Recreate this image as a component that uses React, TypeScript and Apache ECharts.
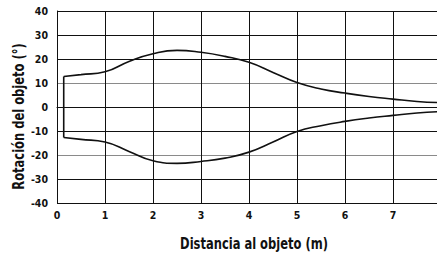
import React, { useEffect, useRef } from "react";
import * as echarts from "echarts";

const distances = [0.14, 0.5, 1, 1.5, 2, 2.5, 3, 3.5, 4, 4.5, 5, 5.5, 6, 6.5, 7, 7.5, 8];
const upper = [12.7, 13.5, 14.7, 19.0, 22.2, 23.6, 22.8, 21.1, 18.6, 14.4, 10.2, 7.5, 5.8, 4.4, 3.3, 2.3, 1.8];
const lower = [-12.7, -13.5, -14.6, -18.5, -22.4, -23.5, -22.7, -21.3, -18.8, -14.6, -10.2, -7.8, -6.0, -4.6, -3.5, -2.5, -1.9];
const yTicks = [-40, -30, -20, -10, 0, 10, 20, 30, 40];
const xTicks = [0, 1, 2, 3, 4, 5, 6, 7, 8];
const xTitle = "Distancia al objeto (m)";
const yTitle = "Rotación del objeto (°)";

const FONT = "'Liberation Sans Narrow', 'DejaVu Sans Condensed', 'Arial Narrow', sans-serif";
const DARK = "#111111";
const GRAY = "#8a8a8a";

export default function App() {
  const ref = useRef<HTMLDivElement>(null);
  useEffect(() => {
    if (!ref.current) return;
    const chart = echarts.init(ref.current, null, { renderer: "svg" });
    const up = distances.map((d, i) => [d, upper[i]]);
    const lo = distances.map((d, i) => [d, lower[i]]);
    const splitColors = yTicks.map((t) => (t === 10 || t === -20 ? GRAY : DARK));
    chart.setOption({
      animation: false,
      grid: { left: 57, top: 11, width: 384, height: 192, show: false },
      xAxis: {
        type: "value",
        min: xTicks[0],
        max: xTicks[xTicks.length - 1],
        interval: 1,
        axisLine: { show: true, lineStyle: { color: DARK, width: 1 } },
        axisTick: { show: false },
        splitLine: { show: true, lineStyle: { color: DARK, width: 1 } },
        axisLabel: {
          margin: 6,
          color: DARK,
          fontFamily: FONT,
          fontWeight: "bold",
          fontSize: 10.5,
          showMaxLabel: false,
          formatter: (v: number) => (v === xTicks[xTicks.length - 1] ? "" : String(v)),
        },
      },
      yAxis: {
        type: "value",
        min: yTicks[0],
        max: yTicks[yTicks.length - 1],
        interval: 10,
        axisLine: { show: true, lineStyle: { color: DARK, width: 1 } },
        axisTick: { show: false },
        splitLine: { show: true, lineStyle: { color: splitColors, width: 1 } },
        axisLabel: {
          margin: 9,
          color: DARK,
          fontFamily: FONT,
          fontWeight: "bold",
          fontSize: 10.5,
        },
      },
      graphic: [
        {
          type: "text",
          x: 254,
          y: 243,
          scaleX: 0.8,
          style: {
            text: xTitle,
            fill: DARK,
            font: `bold 16px ${FONT}`,
            textAlign: "center",
            textVerticalAlign: "middle",
          },
        },
        {
          type: "text",
          x: 18,
          y: 116.5,
          rotation: Math.PI / 2,
          scaleX: 0.8,
          style: {
            text: yTitle,
            fill: DARK,
            font: `bold 16px ${FONT}`,
            textAlign: "center",
            textVerticalAlign: "middle",
          },
        },
      ],
      series: [
        {
          type: "line",
          data: up,
          smooth: 0.5,
          symbol: "none",
          lineStyle: { color: DARK, width: 1.6 },
          z: 5,
        },
        {
          type: "line",
          data: lo,
          smooth: 0.5,
          symbol: "none",
          lineStyle: { color: DARK, width: 1.6 },
          z: 5,
        },
        {
          type: "line",
          data: [up[0], lo[0]],
          symbol: "none",
          lineStyle: { color: DARK, width: 1.6 },
          z: 5,
        },
      ],
    });
    return () => chart.dispose();
  }, []);
  return (
    <div
      style={{ position: "fixed", left: 0, top: 0, width: 437, height: 254, overflow: "hidden", background: "#fff" }}
    >
      <div ref={ref} style={{ width: 446, height: 254 }} />
    </div>
  );
}
